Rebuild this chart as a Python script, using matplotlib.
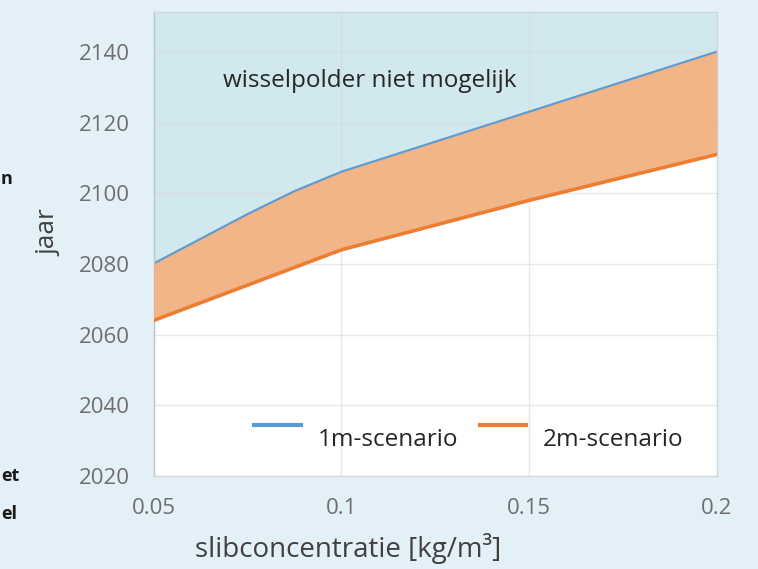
import matplotlib
matplotlib.use("Agg")
import matplotlib.pyplot as plt
from matplotlib.legend_handler import HandlerLine2D

# ==========================================
# data
# ==========================================
slib = [0.05, 0.0625, 0.075, 0.0875, 0.1, 0.125, 0.15, 0.175, 0.2]
jaar_1m = [2080, 2087, 2094, 2100.5, 2106, 2114.5, 2123, 2131.5, 2140]
jaar_2m = [2064, 2069, 2074, 2079, 2084, 2091, 2098, 2104.5, 2111]

x_ticks = [0.05, 0.1, 0.15, 0.2]
x_ticklabels = ["0.05", "0.1", "0.15", "0.2"]
y_ticks = [2020, 2040, 2060, 2080, 2100, 2120, 2140]

# colours
bg = "#e3f0f7"
blue = "#5b9bd5"
orange = "#ed7d31"
blue_fill = "#d1e8ee"
orange_fill = "#f2b07e"
grid_col = "#d9d9d9"
tick_col = "#6e6e6e"

plt.rcParams['font.family'] = ['Open Sans', 'DejaVu Sans']


class RaisedLine(HandlerLine2D):
    """legend sample drawn a bit above the label centre, as in the original"""

    def __init__(self, shift, **kw):
        super().__init__(**kw)
        self.shift = shift

    def create_artists(self, legend, orig_handle, xdescent, ydescent,
                       width, height, fontsize, trans):
        artists = super().create_artists(legend, orig_handle, xdescent, ydescent,
                                         width, height, fontsize, trans)
        for a in artists:
            a.set_ydata([y + self.shift for y in a.get_ydata()])
        return artists


fig = plt.figure(figsize=(7.58, 5.69), dpi=100)
fig.patch.set_facecolor(bg)

ax = fig.add_axes([153.5 / 758, 93 / 569, 563.5 / 758, 464 / 569])
ax.set_facecolor("white")

y_top = 2151.3
ax.set_xlim(0.05, 0.2)
ax.set_ylim(2020, y_top)

# filled zones
ax.fill_between(slib, jaar_1m, y_top, color=blue_fill, linewidth=0, zorder=1)
l1, = ax.plot(slib, jaar_1m, color=blue, linewidth=2.0, zorder=2,
              label="1m-scenario")
ax.fill_between(slib, jaar_2m, jaar_1m, color=orange_fill, alpha=0.93,
                linewidth=0, zorder=3)
l2, = ax.plot(slib, jaar_2m, color=orange, linewidth=2.6, zorder=4,
              label="2m-scenario")

# grid
ax.set_xticks(x_ticks)
ax.set_xticklabels(x_ticklabels)
ax.set_yticks(y_ticks)
ax.grid(True, color=grid_col, linewidth=1.0)
for gl in ax.get_xgridlines() + ax.get_ygridlines():
    gl.set_zorder(3.5)
    gl.set_alpha(0.6)

for s in ax.spines.values():
    s.set_color("#d0d8dc")
    s.set_linewidth(1.0)
ax.spines["left"].set_color("#c4c4c4")

ax.tick_params(axis="both", length=0, labelsize=16, labelcolor=tick_col)
ax.tick_params(axis="y", pad=17)
ax.tick_params(axis="x", pad=15.5)

# annotation inside the plot
ax.text(0.0685, 2131.7, "wisselpolder niet mogelijk", fontsize=17.5,
        color="#262626", va="center", ha="left", zorder=6)

# legend
leg = ax.legend(handles=[l1, l2], loc="center right",
                bbox_to_anchor=(0.941, 0.078), ncol=2, frameon=False,
                fontsize=17.5, handlelength=1.9, columnspacing=0.9,
                handletextpad=0.7, borderpad=0, borderaxespad=0,
                labelcolor="#262626",
                handler_map={l1: RaisedLine(9), l2: RaisedLine(9)})
for h in leg.get_lines():
    h.set_linewidth(3)
leg.set_zorder(7)

# axis labels
fig.text(49 / 758, 1 - 233 / 569, "jaar", rotation=90, fontsize=19,
         color="#404040", ha="center", va="center")
fig.text(195 / 758, 1 - 549 / 569, "slibconcentratie [kg/m³]", fontsize=20,
         color="#404040", ha="left", va="center")

# text fragments at the left edge (rest of the sentences lies outside the crop)
fig.text(1 / 758, 1 - 179 / 569, "n", fontsize=13, fontweight="bold",
         color="#1a1a1a", ha="left", va="center")
fig.text(1 / 758, 1 - 476 / 569, "et", fontsize=13, fontweight="bold",
         color="#1a1a1a", ha="left", va="center")
fig.text(1 / 758, 1 - 514 / 569, "el", fontsize=13, fontweight="bold",
         color="#1a1a1a", ha="left", va="center")

fig.savefig("out.png", dpi=100, facecolor=bg)
